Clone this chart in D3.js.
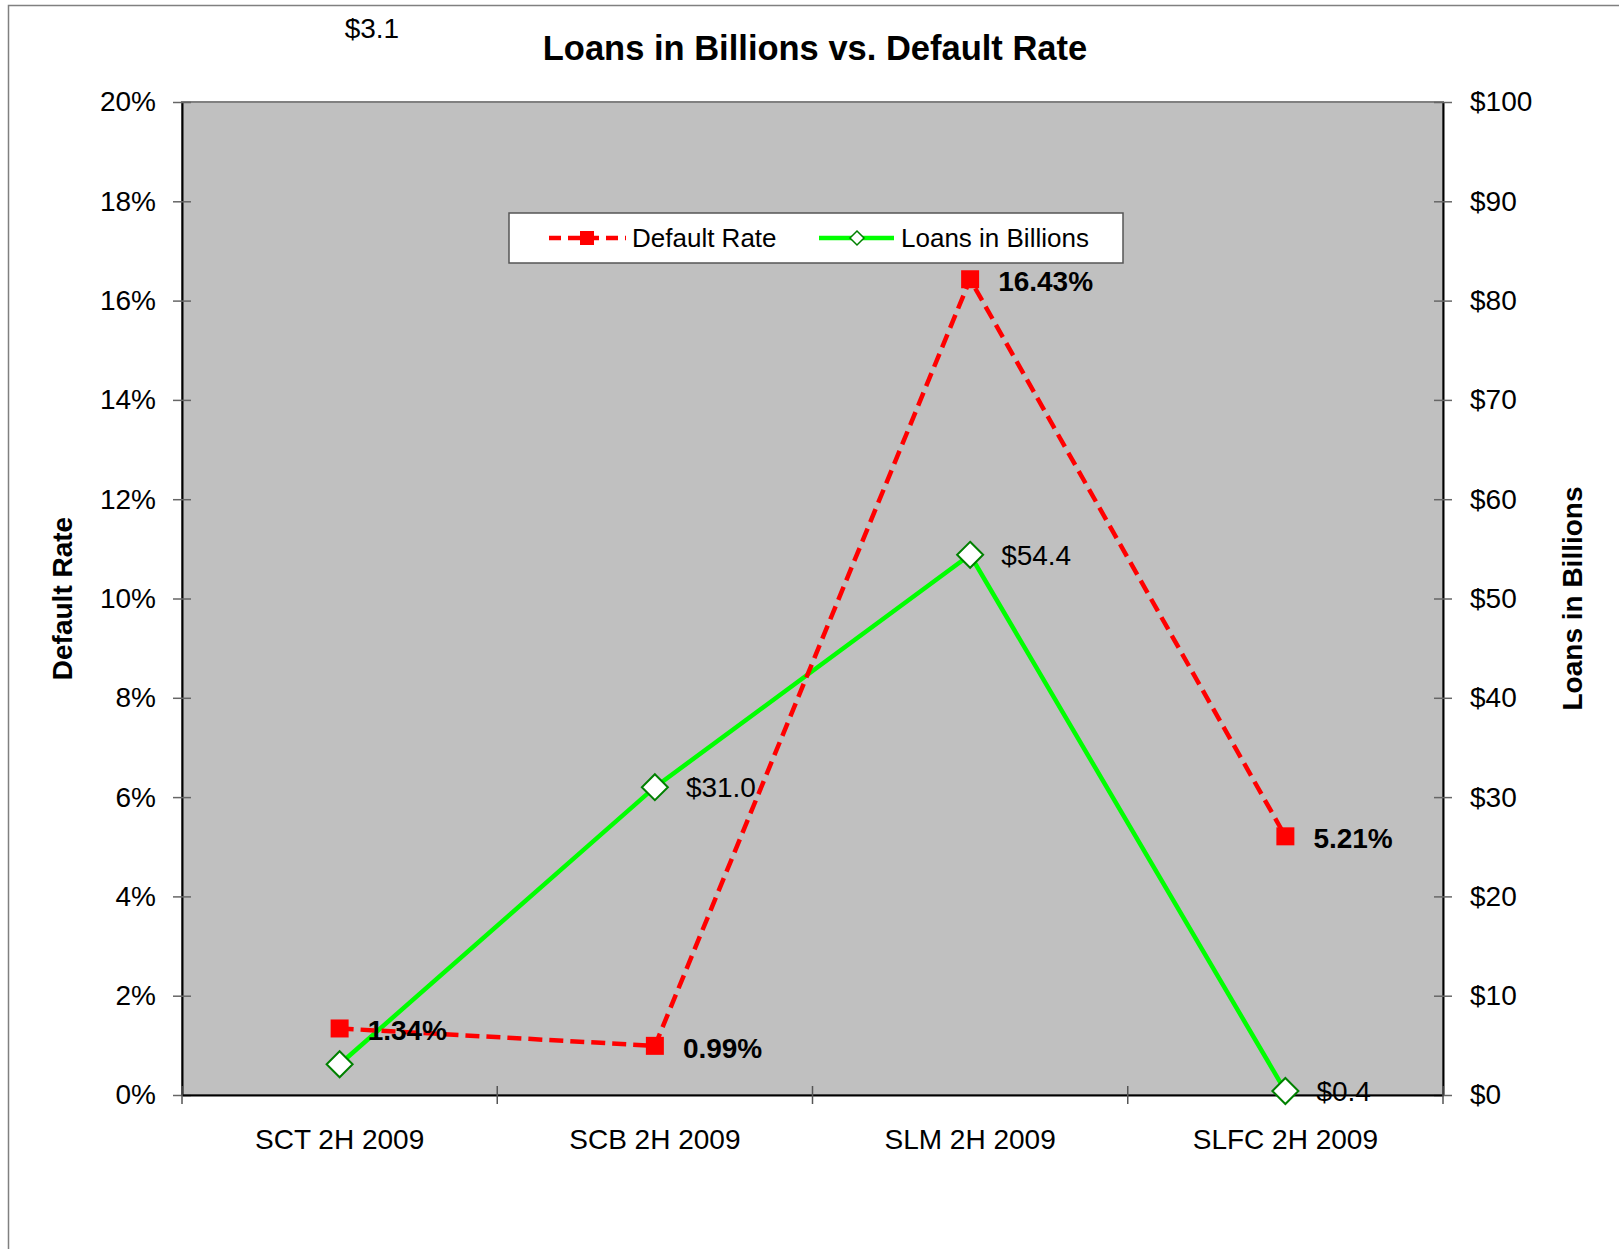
<!DOCTYPE html>
<html>
<head>
<meta charset="utf-8">
<script src="https://cdn.jsdelivr.net/npm/d3@7"></script>
<style>
  html, body { margin: 0; padding: 0; background: #fff; }
  svg text { font-family: "Liberation Sans", Arial, sans-serif; fill: #000; }
</style>
</head>
<body>
<div id="chart"></div>
<script>
'use strict';

var categories = ['SCT 2H 2009', 'SCB 2H 2009', 'SLM 2H 2009', 'SLFC 2H 2009'];
var defaultRate = [0.0134, 0.0099, 0.1643, 0.0521];
var loansBillions = [3.1, 31.0, 54.4, 0.4];
var rateTicks = [0, 0.02, 0.04, 0.06, 0.08, 0.10, 0.12, 0.14, 0.16, 0.18, 0.20];
var loanTicks = [0, 10, 20, 30, 40, 50, 60, 70, 80, 90, 100];

var w, h, margin, svg, x, yLeft, yRight, plot, redColor, greenColor, darkGreen,
  fmtRate, fmtLoan, lineRate, lineLoan, legend;

w = 1619;
h = 1249;
margin = { left: 182, right: 1443, top: 102, bottom: 1095 };
redColor = '#FF0000';
greenColor = '#00FF00';
darkGreen = '#008000';

fmtRate = d3.format('.0%');
fmtLoan = function(d) { return '$' + d; };

svg = d3.select('#chart')
  .append('svg')
  .attr('width', w)
  .attr('height', h);

// outer chart border (runs off the page on right and bottom)
svg.append('rect')
  .attr('x', 8.5)
  .attr('y', 5.5)
  .attr('width', w + 20)
  .attr('height', h + 20)
  .attr('fill', '#fff')
  .attr('stroke', '#808080')
  .attr('stroke-width', 1.5);

x = d3.scaleBand()
  .domain(categories)
  .range([margin.left, margin.right]);

yLeft = d3.scaleLinear()
  .domain([0, 0.2])
  .range([margin.bottom, margin.top]);

yRight = d3.scaleLinear()
  .domain([0, 100])
  .range([margin.bottom, margin.top]);

// plot area
svg.append('rect')
  .attr('x', margin.left)
  .attr('y', margin.top)
  .attr('width', margin.right - margin.left)
  .attr('height', margin.bottom - margin.top)
  .attr('fill', '#C0C0C0')
  .attr('stroke', '#808080')
  .attr('stroke-width', 2);

// left axis
var leftAxis = svg.append('g')
  .attr('transform', 'translate(' + margin.left + ',0)')
  .call(d3.axisLeft(yLeft).tickValues(rateTicks).tickFormat(fmtRate)
    .tickSizeInner(9).tickSizeOuter(0).tickPadding(17));
leftAxis.selectAll('.tick').append('line').attr('x2', 9);
leftAxis.selectAll('.tick line').attr('stroke', '#666').attr('stroke-width', 1.5);
leftAxis.select('.domain').attr('stroke', '#000').attr('stroke-width', 2);
leftAxis.selectAll('.tick text').attr('font-size', 28);

// right axis
var rightAxis = svg.append('g')
  .attr('transform', 'translate(' + margin.right + ',0)')
  .call(d3.axisRight(yRight).tickValues(loanTicks).tickFormat(fmtLoan)
    .tickSizeInner(9).tickSizeOuter(0).tickPadding(18));
rightAxis.selectAll('.tick').append('line').attr('x2', -9);
rightAxis.selectAll('.tick line').attr('stroke', '#666').attr('stroke-width', 1.5);
rightAxis.select('.domain').attr('stroke', '#000').attr('stroke-width', 2);
rightAxis.selectAll('.tick text').attr('font-size', 28);

// bottom axis: labels at category centres, tick marks between categories
var bottomAxis = svg.append('g')
  .attr('transform', 'translate(0,' + margin.bottom + ')')
  .call(d3.axisBottom(x).tickSize(0).tickPadding(34));
bottomAxis.select('.domain').attr('stroke', '#000').attr('stroke-width', 2);
bottomAxis.selectAll('.tick text').attr('font-size', 28);
bottomAxis.selectAll('.boundary')
  .data(d3.range(categories.length + 1))
  .enter()
  .append('line')
  .attr('x1', function(i) { return margin.left + i * x.step(); })
  .attr('x2', function(i) { return margin.left + i * x.step(); })
  .attr('y1', -9)
  .attr('y2', 9)
  .attr('stroke', '#555')
  .attr('stroke-width', 1.5);

function cx(i) { return x(categories[i]) + x.bandwidth() / 2; }

plot = svg.append('g');

// Loans line (drawn first, sits under default rate)
lineLoan = d3.line()
  .x(function(d, i) { return cx(i); })
  .y(function(d) { return yRight(d); });

plot.append('path')
  .datum(loansBillions)
  .attr('d', lineLoan)
  .attr('fill', 'none')
  .attr('stroke', greenColor)
  .attr('stroke-width', 4.5);

// Default rate line
lineRate = d3.line()
  .x(function(d, i) { return cx(i); })
  .y(function(d) { return yLeft(d); });

plot.append('path')
  .datum(defaultRate)
  .attr('d', lineRate)
  .attr('fill', 'none')
  .attr('stroke', redColor)
  .attr('stroke-width', 4.5)
  .attr('stroke-dasharray', '14,7');

// diamond markers
plot.selectAll('.diamond')
  .data(loansBillions)
  .enter()
  .append('path')
  .attr('d', 'M0,-13L13,0L0,13L-13,0Z')
  .attr('transform', function(d, i) { return 'translate(' + cx(i) + ',' + yRight(d) + ')'; })
  .attr('fill', '#fff')
  .attr('stroke', darkGreen)
  .attr('stroke-width', 2);

// square markers
plot.selectAll('.square')
  .data(defaultRate)
  .enter()
  .append('rect')
  .attr('x', function(d, i) { return cx(i) - 9; })
  .attr('y', function(d) { return yLeft(d) - 9; })
  .attr('width', 18)
  .attr('height', 18)
  .attr('fill', redColor);

// loan labels (first one was dragged up to the top of the chart)
plot.selectAll('.loanLabel')
  .data(loansBillions)
  .enter()
  .append('text')
  .attr('x', function(d, i) { return i === 0 ? cx(i) + 5 : cx(i) + 31; })
  .attr('y', function(d, i) { return i === 0 ? 28 : yRight(d); })
  .attr('dy', '0.35em')
  .attr('font-size', 28)
  .text(function(d) { return '$' + d.toFixed(1); });

// default rate labels
plot.selectAll('.rateLabel')
  .data(defaultRate)
  .enter()
  .append('text')
  .attr('x', function(d, i) { return cx(i) + 28; })
  .attr('y', function(d) { return yLeft(d) + 2; })
  .attr('dy', '0.35em')
  .attr('font-size', 28)
  .attr('font-weight', 'bold')
  .text(function(d) { return d3.format('.2%')(d); });

// title
svg.append('text')
  .attr('x', 815)
  .attr('y', 48)
  .attr('dy', '0.35em')
  .attr('text-anchor', 'middle')
  .attr('font-size', 34.5)
  .attr('font-weight', 'bold')
  .text('Loans in Billions vs. Default Rate');

// axis titles
svg.append('text')
  .attr('transform', 'translate(62,' + (margin.top + margin.bottom) / 2 + ') rotate(-90)')
  .attr('dy', '0.35em')
  .attr('text-anchor', 'middle')
  .attr('font-size', 28)
  .attr('font-weight', 'bold')
  .text('Default Rate');

svg.append('text')
  .attr('transform', 'translate(1572,' + (margin.top + margin.bottom) / 2 + ') rotate(-90)')
  .attr('dy', '0.35em')
  .attr('text-anchor', 'middle')
  .attr('font-size', 28)
  .attr('font-weight', 'bold')
  .text('Loans in Billions');

// legend
legend = svg.append('g').attr('transform', 'translate(509,213)');
legend.append('rect')
  .attr('width', 614)
  .attr('height', 50)
  .attr('fill', '#fff')
  .attr('stroke', '#555')
  .attr('stroke-width', 1.5);

legend.append('line')
  .attr('x1', 40).attr('x2', 117).attr('y1', 25).attr('y2', 25)
  .attr('stroke', redColor).attr('stroke-width', 4.5).attr('stroke-dasharray', '12,7');
legend.append('rect')
  .attr('x', 71).attr('y', 18).attr('width', 14).attr('height', 14)
  .attr('fill', redColor);
legend.append('text')
  .attr('x', 123).attr('y', 25).attr('dy', '0.35em')
  .attr('font-size', 26)
  .text('Default Rate');

legend.append('line')
  .attr('x1', 310).attr('x2', 385).attr('y1', 25).attr('y2', 25)
  .attr('stroke', greenColor).attr('stroke-width', 4.5);
legend.append('path')
  .attr('d', 'M0,-7L7,0L0,7L-7,0Z')
  .attr('transform', 'translate(348,25)')
  .attr('fill', '#fff')
  .attr('stroke', darkGreen)
  .attr('stroke-width', 1.5);
legend.append('text')
  .attr('x', 392).attr('y', 25).attr('dy', '0.35em')
  .attr('font-size', 26)
  .text('Loans in Billions');
</script>
</body>
</html>
